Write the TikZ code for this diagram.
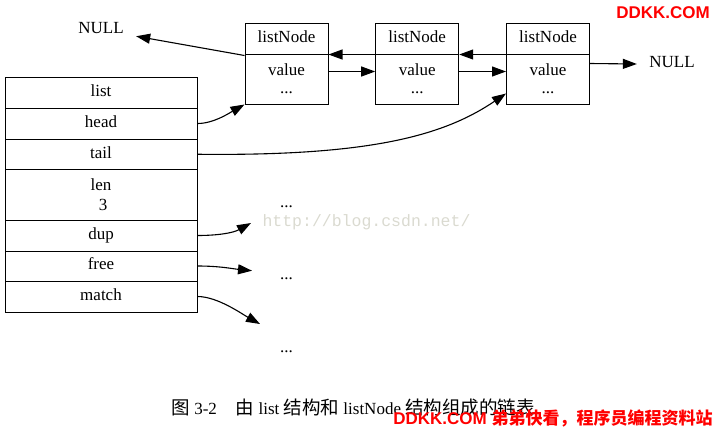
\documentclass[tikz,border=0pt]{standalone}
\usepackage{fontspec}
\setmainfont{Liberation Serif}
\newfontfamily\cjk{Noto Sans CJK SC}
\newfontfamily\wmsans{Liberation Sans}
\newfontfamily\wmmono{Liberation Mono}
\usetikzlibrary{arrows.meta}
\definecolor{wmred}{RGB}{255,0,0}
\definecolor{wmgray}{RGB}{218,218,208}

\begin{document}
\begin{tikzpicture}[x=1pt, y=-1pt, line width=1pt,
	font=\fontsize{17}{20}\selectfont,
	field/.style={draw, rectangle, inner sep=0pt, minimum width=192pt, minimum height=#1, text height=11.8pt, text depth=4pt},
	field/.default=31pt,
	nodehead/.style={draw, rectangle, inner sep=0pt, minimum width=83pt, minimum height=31pt, text height=11.8pt, text depth=4pt},
	nodebody/.style={draw, rectangle, inner sep=0pt, minimum width=83pt, minimum height=50pt, align=center},
	word/.style={inner sep=0pt, text height=11.8pt, text depth=4pt},
	ptr/.style={-{Triangle[length=14pt,width=10pt]}, line width=1.1pt}]
	\useasboundingbox (0,0) rectangle (715,429);

	% list struct
	\node (list) at (101,92.5) [field] {list};
	\node (head) at (101,123.5) [field] {head};
	\node (tail) at (101,154.25) [field=30.5pt] {tail};
	\node (len) at (101,194.75) [draw, rectangle, inner sep=0pt, minimum width=192pt, minimum height=50.5pt, align=center] {len\\\ 3};
	\node (dup) at (101,235.5) [field] {dup};
	\node (free) at (101,266) [field=30pt] {free};
	\node (match) at (101,296.5) [field] {match};

	% listNode chain
	\node (h1) at (286.5,38.5) [nodehead] {listNode};
		\node (b1) at (286.5,79) [nodebody] {value\\[-2pt]...};
	\node (h2) at (417.2,38.5) [nodehead] {listNode};
		\node (b2) at (417.2,79) [nodebody] {value\\[-2pt]...};
	\node (h3) at (548,38.5) [nodehead] {listNode};
		\node (b3) at (548,79) [nodebody] {value\\[-2pt]...};
	\node (null1) at (101,30) [word, inner xsep=12pt, inner ysep=6pt] {NULL};
	\node (null2) at (672,64) [word, inner xsep=12pt] {NULL};

	\draw[ptr] ([yshift=-2pt]b1.north west) -- (null1);
	\draw[ptr] ([yshift=-1pt]b2.north west) -- ([yshift=-1pt]b1.north east);
	\draw[ptr] ([yshift=-18pt]b1.north east) -- ([yshift=-18pt]b2.north west);
	\draw[ptr] ([yshift=-1pt]b3.north west) -- ([yshift=-1pt]b2.north east);
	\draw[ptr] ([yshift=-18pt]b2.north east) -- ([yshift=-18pt]b3.north west);
	\draw[ptr] ([yshift=-10pt]b3.north east) -- (null2.west);

	\draw[ptr] (head.east) .. controls +(16,0) and +(-16,9) .. (b1.south west);
	\draw[ptr] (tail.east) .. controls +(173,2) and +(-62,42) .. ([yshift=11pt]b3.south west);

	% function pointers
	\node (more1) at (286.5,204) [word] {...};
	\node (more2) at (286.5,276) [word] {...};
	\node (more3) at (286.5,349) [word] {...};
	\coordinate (dupEnd) at (251,223);
	\coordinate (freeEnd) at (252,270.7);
	\coordinate (matchEnd) at (260,324);
	\draw[ptr] (dup.east) .. controls +(20,0) and +(-18,10) .. (dupEnd);
	\draw[ptr] (free.east) .. controls +(22,0) and +(-20,-2) .. (freeEnd);
	\draw[ptr] (match.east) .. controls +(20,0) and +(-18,-10) .. (matchEnd);

	% caption and marks
	\node (caption) at (171,414) [anchor=base west, inner sep=0pt] {{\cjk\fontsize{18.5}{20}\selectfont 图} 3-2\hspace{19pt}{\cjk\fontsize{18.5}{20}\selectfont 由} list {\cjk\fontsize{18.5}{20}\selectfont 结构和} listNode {\cjk\fontsize{18.5}{20}\selectfont 结构组成的链表}};
	\node (url) at (262,226) [anchor=base west, inner sep=0pt, text=wmgray, font=\wmmono\fontsize{16.5}{20}\selectfont] {http://blog.csdn.net/};
	\node (mark) at (663,13) [inner sep=0pt, text=wmred, font=\wmsans\bfseries\fontsize{17}{20}\selectfont] {DDKK.COM};
	\node (mark2) at (713,418) [anchor=east, inner sep=0pt, text=wmred, font=\wmsans\bfseries\fontsize{17}{20}\selectfont] {DDKK.COM {\cjk 弟弟快看，程序员编程资料站}};
\end{tikzpicture}
\end{document}
